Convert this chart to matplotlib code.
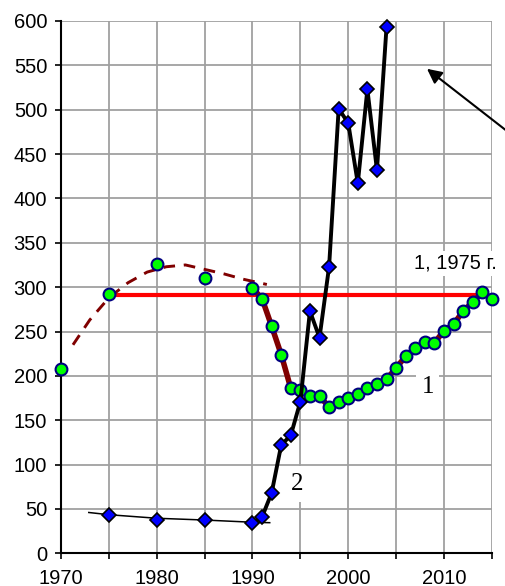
import matplotlib
matplotlib.use("Agg")
import matplotlib.pyplot as plt

plt.rcParams['font.family'] = ['Liberation Sans', 'DejaVu Sans']

# ряд 1 - зелёные кружки
years1 = [1970, 1975, 1980, 1985, 1990, 1991, 1992, 1993, 1994, 1995, 1996,
          1997, 1998, 1999, 2000, 2001, 2002, 2003, 2004, 2005, 2006, 2007,
          2008, 2009, 2010, 2011, 2012, 2013, 2014, 2015]
vals1 = [208, 292, 326, 310, 299, 287, 256, 224, 186, 184, 177,
         177, 165, 170, 175, 180, 186, 191, 196, 209, 222, 231,
         238, 237, 251, 258, 273, 283, 294, 287]

# ряд 2 - синие ромбы
years2 = [1975, 1980, 1985, 1990, 1991, 1992, 1993, 1994, 1995, 1996, 1997,
          1998, 1999, 2000, 2001, 2002, 2003, 2004]
vals2 = [43, 37, 37, 34, 41, 68, 122, 133, 171, 273, 243,
         323, 501, 485, 417, 523, 432, 593]

# уровень 1975 г.
level_years = [1975, 2014]
level_vals = [291, 291]

# пунктирный тренд
trend1_years = [1971.25, 1973, 1975, 1977, 1979, 1981, 1983, 1985, 1987, 1989, 1991.5]
trend1_vals = [235, 263, 288, 305, 317, 323, 325, 320, 315, 309, 303]

# тонкий тренд ряда 2
trend2_years = [1972.9, 1975, 1980, 1985, 1990, 1991.8]
trend2_vals = [46, 43.5, 39.5, 37.5, 35, 34.5]

fig = plt.figure(figsize=(5.06, 5.86), dpi=100)
ax = fig.add_axes([0.1206, 0.0558, 0.972 - 0.1206, 0.9642 - 0.0558])

# толстая бордовая линия с 1990 г.
i90 = years1.index(1990)
ax.plot(years1[i90:], vals1[i90:], color='#800000', lw=4, solid_joinstyle='round', zorder=3)
ax.plot(years1, vals1, linestyle='none', marker='o', ms=8.5,
        mfc='#00ff00', mec='#000080', mew=1.5, zorder=4, clip_on=False)

ax.plot(level_years, level_vals, color='#ff0000', lw=3, zorder=2)
ax.plot(trend1_years, trend1_vals, color='#800000', lw=2.1, dashes=(4, 3), zorder=2)
ax.plot(trend2_years, trend2_vals, color='black', lw=1.1, zorder=3)

j90 = years2.index(1990)
ax.plot(years2[j90:], vals2[j90:], color='black', lw=2.8, solid_joinstyle='round', zorder=5)
ax.plot(years2, vals2, linestyle='none', marker='D', ms=6.8,
        mfc='#0000ff', mec='black', mew=1.2, zorder=6, clip_on=False)

ax.set_xlim(1970, 2015)
ax.set_ylim(0, 600)
ax.set_xticks(range(1970, 2011, 10))
ax.set_xticks(range(1970, 2016, 5), minor=True)
ax.set_yticks(range(0, 601, 50))
ax.grid(True, which='both', color='#a0a0a0', lw=1.3, zorder=0)
ax.set_axisbelow(True)
for s in ['top', 'right']:
    ax.spines[s].set_visible(False)
for s in ['left', 'bottom']:
    ax.spines[s].set_linewidth(1.5)
ax.tick_params(axis='both', which='both', direction='out', length=4, width=1.2, labelsize=14.5)
ax.tick_params(axis='x', which='major', pad=7)
ax.tick_params(axis='y', pad=6)

ax.annotate('', xy=(2008, 548), xytext=(2018, 464), annotation_clip=False,
            arrowprops=dict(arrowstyle='-|>', color='black', lw=1.5, mutation_scale=22))

ax.text(2006.9, 327, '1, 1975 г.', fontsize=14.5, ha='left', va='center', zorder=7,
        bbox=dict(facecolor='white', edgecolor='none', pad=2))
ax.text(2008.3, 188, '1', fontsize=18, family='Liberation Serif', ha='center', va='center',
        zorder=7, bbox=dict(facecolor='white', edgecolor='none', pad=4))
ax.text(1994.7, 78, '2', fontsize=18, family='Liberation Serif', ha='center', va='center',
        zorder=7, bbox=dict(facecolor='white', edgecolor='none', pad=5))

plt.savefig('out.png', dpi=100)
